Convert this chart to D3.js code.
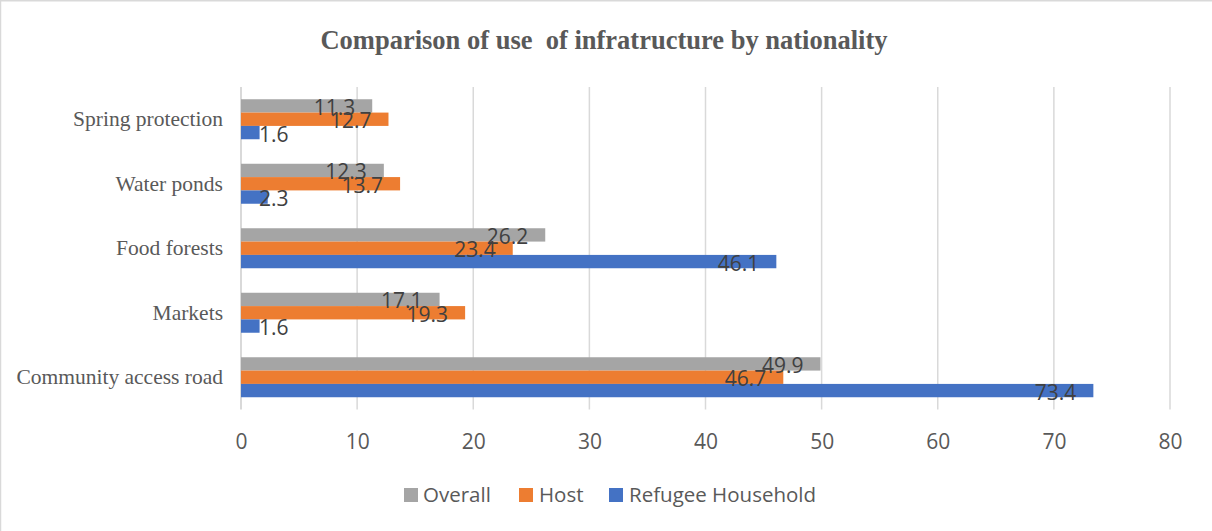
<!DOCTYPE html>
<html>
<head>
<meta charset="utf-8">
<script src="https://cdn.jsdelivr.net/npm/d3@7"></script>
<style>
  html, body { margin: 0; padding: 0; background: #fff; }
  svg { display: block; }
</style>
</head>
<body>
<svg id="chart" width="1212" height="531"></svg>
<script>
const categories = ["Spring protection", "Water ponds", "Food forests", "Markets", "Community access road"];
const seriesNames = ["Overall", "Host", "Refugee Household"];
const overall = [11.3, 12.3, 26.2, 17.1, 49.9];
const host = [12.7, 13.7, 23.4, 19.3, 46.7];
const refugee = [1.6, 2.3, 46.1, 1.6, 73.4];
const xTicks = [0, 10, 20, 30, 40, 50, 60, 70, 80];
const titleText = "Comparison of use  of infratructure by nationality";

const colors = {"Overall": "#A5A5A5", "Host": "#ED7D31", "Refugee Household": "#4472C4"};
const seriesValues = {"Overall": overall, "Host": host, "Refugee Household": refugee};

const svg = d3.select("#chart");

// border
svg.append("line").attr("x1", 0.5).attr("x2", 0.5).attr("y1", 0).attr("y2", 531).attr("stroke", "#d9d9d9").attr("stroke-width", 1.5);
svg.append("line").attr("x1", 0).attr("x2", 1212).attr("y1", 0.75).attr("y2", 0.75).attr("stroke", "#d9d9d9").attr("stroke-width", 1.5);

const x = d3.scaleLinear().domain([0, 80]).range([241, 1170]);
const y = d3.scaleBand().domain(categories).range([87, 409.5]).paddingInner(0.38).paddingOuter(0.19);
const yInner = d3.scaleBand().domain(seriesNames).range([0, y.bandwidth()]);

// title
svg.append("text")
  .attr("x", 604).attr("y", 49)
  .attr("text-anchor", "middle")
  .style("white-space", "pre")
  .attr("font-family", "'Liberation Serif', 'Times New Roman', serif")
  .attr("font-weight", "bold")
  .attr("font-size", 26.5)
  .attr("fill", "#595959")
  .text(titleText);

// gridlines
svg.append("g").selectAll("line").data(xTicks.slice(1)).join("line")
  .attr("x1", d => x(d)).attr("x2", d => x(d))
  .attr("y1", 87).attr("y2", 409.5)
  .attr("stroke", "#d9d9d9").attr("stroke-width", 1.5);

// axis line (left)
svg.append("line").attr("x1", x(0)).attr("x2", x(0)).attr("y1", 87).attr("y2", 409.5)
  .attr("stroke", "#d9d9d9").attr("stroke-width", 2);

// x tick labels via axis
const xAxis = d3.axisBottom(x).tickValues(xTicks).tickSize(0).tickPadding(0);
const gx = svg.append("g").attr("transform", "translate(0,430)").call(xAxis);
gx.select(".domain").remove();
gx.selectAll("text")
  .attr("font-family", "'Open Sans', sans-serif")
  .attr("font-size", 21)
  .attr("fill", "#595959")
  .attr("dy", null)
  .attr("y", 19);

// y category labels
const yAxis = d3.axisLeft(y).tickSize(0).tickPadding(18);
const gy = svg.append("g").attr("transform", `translate(${x(0)},0)`).call(yAxis);
gy.select(".domain").remove();
gy.selectAll("text")
  .attr("font-family", "'Liberation Serif', 'Times New Roman', serif")
  .attr("font-size", 21.5)
  .attr("fill", "#595959")
  .attr("dy", "0.33em");

// bars
const groups = svg.append("g").selectAll("g").data(categories).join("g")
  .attr("transform", c => `translate(0,${y(c)})`);

seriesNames.forEach(s => {
  groups.append("rect")
    .attr("x", x(0))
    .attr("y", yInner(s))
    .attr("width", (c, i) => x(seriesValues[s][i]) - x(0))
    .attr("height", yInner.bandwidth())
    .attr("fill", colors[s]);
});

// data labels
seriesNames.forEach(s => {
  groups.append("text")
    .attr("font-family", "'Open Sans', sans-serif")
    .attr("font-size", 21)
    .attr("fill", "#404040")
    .attr("y", yInner(s) + yInner.bandwidth() / 2 + 9)
    .text((c, i) => seriesValues[s][i].toFixed(1))
    .each(function(c, i) {
      const w = this.getComputedTextLength();
      const end = x(seriesValues[s][i]) - 17;
      let start = end - w;
      if (start < x(0) + 18) start = x(0) + 18;
      d3.select(this).attr("x", start);
    });
});

// legend
const legendItems = [
  {name: "Overall", sx: 404, tx: 423},
  {name: "Host", sx: 519, tx: 539},
  {name: "Refugee Household", sx: 609, tx: 629}
];
const lg = svg.append("g");
lg.selectAll("rect").data(legendItems).join("rect")
  .attr("x", d => d.sx).attr("y", 488).attr("width", 14).attr("height", 14)
  .attr("fill", d => colors[d.name]);
lg.selectAll("text").data(legendItems).join("text")
  .attr("x", d => d.tx).attr("y", 502)
  .attr("font-family", "'Open Sans', sans-serif")
  .attr("font-size", 20.5)
  .attr("fill", "#595959")
  .text(d => d.name);
</script>
</body>
</html>
